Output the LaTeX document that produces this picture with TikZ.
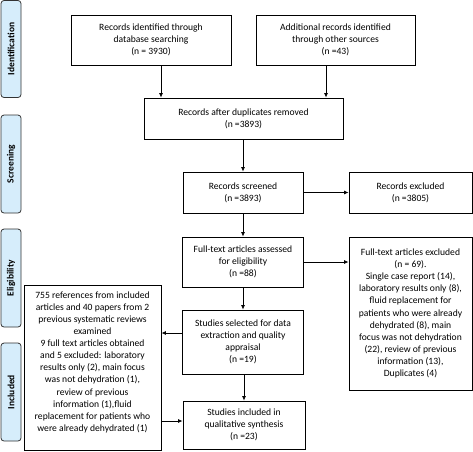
\documentclass[tikz,border=0pt]{standalone}
\usepackage{fontspec}
\setmainfont{Carlito}
\usetikzlibrary{arrows.meta}
\definecolor{sidefill}{HTML}{D6EDFB}
\tikzset{
  box/.style={draw=black, line width=0.8pt, fill=white, align=center, inner sep=2pt,
    font=\fontsize{9.6}{12.1}\selectfont},
  side/.style={draw=black!80, line width=0.8pt, fill=sidefill, rounded corners=3pt,
    rotate=90, minimum height=20pt, inner sep=0pt, font=\fontsize{9.5}{11}\selectfont\bfseries},
  arr/.style={line width=0.8pt, -{Latex[length=4.5pt,width=4pt]}}
}
\begin{document}
\begin{tikzpicture}[x=1pt,y=-1pt]
\useasboundingbox (0,0) rectangle (473,451);
% side labels
\node[side, minimum width=97pt] (sid) at (11,49) {Identification};
\node[side, minimum width=98pt] (sscr) at (11,164) {Screening};
\node[side, minimum width=98pt] (selig) at (11,278) {Eligibility};
\node[side, minimum width=98pt] (sinc) at (11,392) {Included};
% boxes
\node[box, minimum width=160pt, minimum height=50pt] (b1) at (151,40)
  {Records identified through\\database searching\\(n = 3930)};
\node[box, minimum width=159pt, minimum height=50pt] (b2) at (335.5,40)
  {Additional records identified\\through other sources\\(n =43)};
\node[box, minimum width=199pt, minimum height=41pt] (b3) at (243.5,118.5)
  {Records after duplicates removed\\(n =3893)};
\node[box, minimum width=120pt, minimum height=41pt] (b4) at (243,192.5)
  {Records screened\\(n =3893)};
\node[box, minimum width=123pt, minimum height=41pt] (b5) at (410.5,192.5)
  {Records excluded\\(n =3805)};
\node[box, minimum width=121pt, minimum height=50pt] (b6) at (243,262)
  {Full-text articles assessed\\for eligibility\\(n =88)};
\node[box, minimum width=123pt, minimum height=153pt] (b7) at (410.5,313.5)
  {Full-text articles excluded\\(n = 69).\\Single case report (14),\\laboratory results only (8),\\fluid replacement for\\patients who were already\\dehydrated (8), main\\focus was not dehydration\\(22), review of previous\\information (13),\\Duplicates (4)};
\node[box, minimum width=137pt, minimum height=165pt, text depth=12pt] (b8) at (92.5,367.5)
  {755 references from included\\articles and 40 papers from 2\\previous systematic reviews\\examined\\9 full text articles obtained\\and 5 excluded: laboratory\\results only (2), main focus\\was not dehydration (1),\\review of previous\\information (1),fluid\\replacement for patients who\\were already dehydrated (1)};
\node[box, minimum width=121pt, minimum height=64pt] (b9) at (243,342)
  {Studies selected for data\\extraction and quality\\appraisal\\(n =19)};
\node[box, minimum width=122pt, minimum height=48pt] (b10) at (244,425)
  {Studies included in\\qualitative synthesis\\(n =23)};
% connectors
\draw[arr] ([xshift=10pt]b1.south) -- ([xshift=10pt]b1.south |- b3.north);
\draw[arr] ([xshift=-9.5pt]b2.south) -- ([xshift=-9.5pt]b2.south |- b3.north);
\draw[arr] (b3.south -| b4) -- (b4.north);
\draw[arr] (b4.east) -- (b5.west);
\draw[arr] (b4.south) -- (b6.north);
\draw[arr] (b6.east) -- (b6.east -| b7.west);
\draw[arr] (b6.south) -- (b9.north);
\draw[arr] ([yshift=9pt]b9.west) -- ([yshift=9pt]b9.west -| b8.east);
\draw[arr] (b9.south -| b10) -- (b10.north);
\draw[arr] ([yshift=4pt]b10.west -| b8.east) -- ([yshift=4pt]b10.west);
\end{tikzpicture}
\end{document}
